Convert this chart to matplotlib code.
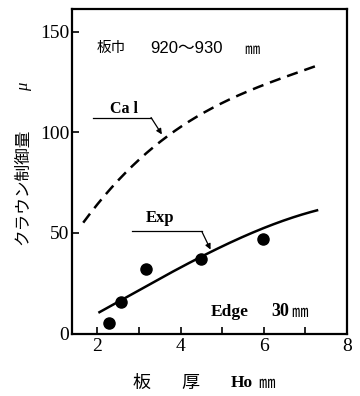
import matplotlib
matplotlib.use("Agg")
import matplotlib.pyplot as plt
from matplotlib.ticker import FixedLocator, NullFormatter
import numpy as np

# ---- data ----
cal_x = [1.66, 2.61, 3.60, 3.96, 4.44, 5.47, 6.34, 7.29]
cal_y = [55.8, 76.5, 97.2, 103.0, 108.8, 118.7, 125.3, 133.6]
exp_x = [2.05, 2.69, 4.48, 4.71, 5.98, 7.28]
exp_y = [10.3, 18.5, 37.0, 40.9, 52.5, 61.1]
pts_x = [2.28, 2.57, 3.17, 4.48, 5.98]
pts_y = [5.3, 15.7, 32.1, 37.1, 47.0]
x_major = [2, 4, 6, 8]
x_minor = [3, 5, 7]
y_ticks = [0, 50, 100, 150]

CJK = ['Noto Sans CJK JP', 'DejaVu Sans']
SERIF = 'Liberation Serif'

fig = plt.figure(figsize=(3.6, 3.96), dpi=100)
ax = fig.add_axes([72/360, 1-333.5/396, (347-72)/360, (333.5-9)/396])
ax.set_xlim(1.39, 8.0)
ax.set_ylim(0, 161.2)

def smooth(xs, ys, n=200):
    c = np.polyfit(xs, ys, 3)
    xx = np.linspace(xs[0], xs[-1], n)
    return xx, np.polyval(c, xx)

cx, cy = smooth(cal_x, cal_y)
ex, ey = smooth(exp_x, exp_y)
ax.plot(cx, cy, color='black', lw=1.8, dashes=(4.5, 2.8))
ax.plot(ex, ey, color='black', lw=1.8)
ax.plot(pts_x, pts_y, 'o', color='black', markersize=8)

for s in ax.spines.values():
    s.set_linewidth(1.6)

ax.xaxis.set_major_locator(FixedLocator(x_major))
ax.xaxis.set_minor_locator(FixedLocator(x_minor))
ax.xaxis.set_minor_formatter(NullFormatter())
ax.set_yticks(y_ticks)
ax.tick_params(axis='both', which='both', direction='in', length=5, width=1.2,
               labelsize=14, pad=3)
ax.tick_params(axis='y', pad=2)
for lab in ax.get_xticklabels() + ax.get_yticklabels():
    lab.set_family(SERIF)

# annotations
ax.text(1.98, 141.8, '板巾', family=CJK, fontsize=10.5, ha='left', va='center')
ax.text(3.27, 141.8, '920〜930', family=['Liberation Sans', 'Noto Sans CJK JP'],
        fontsize=12, ha='left', va='center')
ax.text(5.52, 141.3, '㎜', family=CJK, fontsize=11, ha='left', va='center')

ax.text(2.65, 111.5, 'Ca l', family=SERIF, fontweight='bold', fontsize=11.5,
        ha='center', va='center')
ax.plot([1.89, 3.29], [107.3, 107.3], color='black', lw=0.9)
ax.annotate('', xy=(3.55, 98.9), xytext=(3.29, 107.3),
            arrowprops=dict(arrowstyle='-|>', color='black', lw=0.9,
                            mutation_scale=8, shrinkA=0, shrinkB=0))

ax.text(3.51, 57.6, 'Exp', family=SERIF, fontweight='bold', fontsize=12,
        ha='center', va='center')
ax.plot([2.84, 4.51], [50.7, 50.7], color='black', lw=0.9)
ax.annotate('', xy=(4.72, 41.7), xytext=(4.51, 50.7),
            arrowprops=dict(arrowstyle='-|>', color='black', lw=0.9,
                            mutation_scale=8, shrinkA=0, shrinkB=0))

ax.text(4.72, 10.7, 'Edge', family=SERIF, fontweight='bold', fontsize=12.5,
        ha='left', va='center')
ax.text(6.17, 10.7, '30', family=SERIF, fontweight='bold', fontsize=13,
        ha='left', va='center')
ax.text(6.66, 10.3, '㎜', family=CJK, fontsize=12, ha='left', va='center')

# y label
fig.text(23/360, 1-187/396, 'クラウン制御量', family=CJK, fontsize=12,
         rotation=90, ha='center', va='center')
fig.text(24/360, 1-87/396, 'μ', family=SERIF, style='italic', fontsize=12,
         rotation=90, ha='center', va='center')

# x label
fig.text(142/360, 1-383/396, '板', family=CJK, fontsize=13, ha='center', va='center')
fig.text(190/360, 1-383/396, '厚', family=CJK, fontsize=13, ha='center', va='center')
fig.text(242/360, 1-383/396, 'Ho', family=SERIF, fontweight='bold', fontsize=12.5,
         ha='center', va='center')
fig.text(267/360, 1-383/396, '㎜', family=CJK, fontsize=12, ha='center', va='center')

fig.savefig('out.png', dpi=100)
